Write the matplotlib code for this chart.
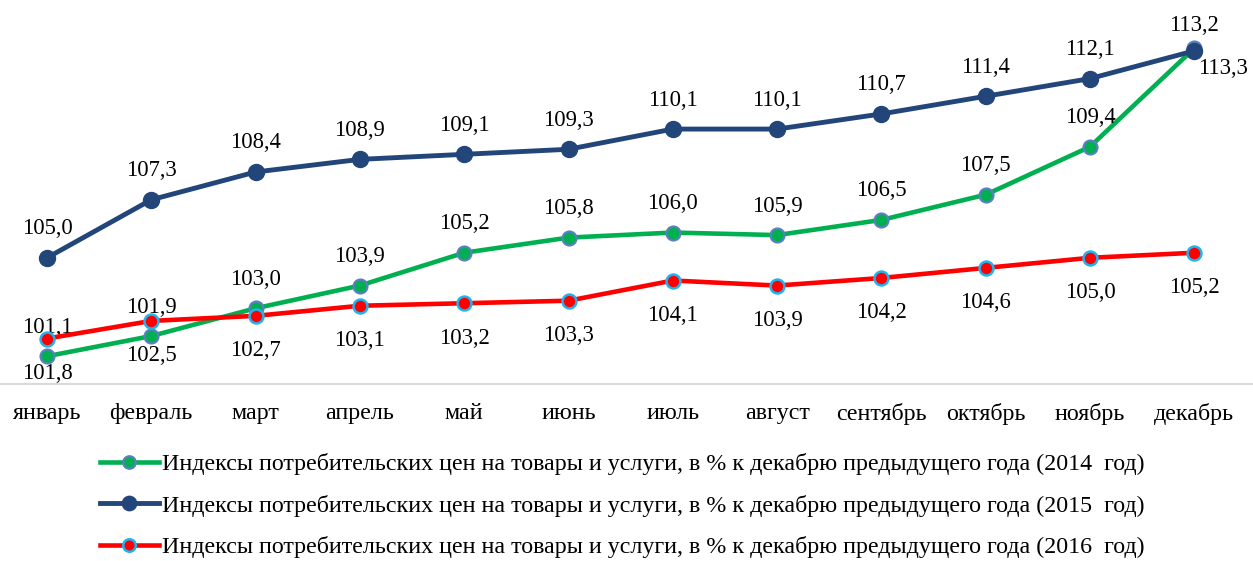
import matplotlib
matplotlib.use("Agg")
import matplotlib.pyplot as plt

plt.rcParams['font.family'] = ['Liberation Serif', 'DejaVu Serif']

months = ["январь", "февраль", "март", "апрель", "май", "июнь", "июль",
          "август", "сентябрь", "октябрь", "ноябрь", "декабрь"]
cpi_2014 = [101.1, 101.9, 103.0, 103.9, 105.2, 105.8, 106.0, 105.9, 106.5, 107.5, 109.4, 113.3]
cpi_2015 = [105.0, 107.3, 108.4, 108.9, 109.1, 109.3, 110.1, 110.1, 110.7, 111.4, 112.1, 113.2]
cpi_2016 = [101.8, 102.5, 102.7, 103.1, 103.2, 103.3, 104.1, 103.9, 104.2, 104.6, 105.0, 105.2]
legend_labels = [
    "Индексы потребительских цен на товары и услуги, в % к декабрю предыдущего года (2014  год)",
    "Индексы потребительских цен на товары и услуги, в % к декабрю предыдущего года (2015  год)",
    "Индексы потребительских цен на товары и услуги, в % к декабрю предыдущего года (2016  год)",
]

W, H = 1253, 561
fig = plt.figure(figsize=(W / 100, H / 100), dpi=100)
ax = fig.add_axes([0, 1 - 384 / H, 1, 384 / H])
ax.set_xlim(-47 / 104.3, (W - 47) / 104.3)
ax.set_ylim(100, 100 + 384 / 25.24)

x = list(range(len(months)))
green = "#00B050"
blue = "#22467A"
red = "#FF0000"

l14, = ax.plot(x, cpi_2014, color=green, lw=3.3, marker='o', ms=10,
               mfc=green, mec="#5B7FC0", mew=1.6, zorder=3)
l15, = ax.plot(x, cpi_2015, color=blue, lw=3.5, marker='o', ms=11.5,
               mfc=blue, mec=blue, mew=1.0, zorder=3)
l16, = ax.plot(x, cpi_2016, color=red, lw=3.3, marker='o', ms=10,
               mfc=red, mec="#1FB4F0", mew=1.8, zorder=4)

fs = 16.3
for i, v in enumerate(cpi_2015):
    dy = 25 if i == len(x) - 1 else 29
    ax.annotate(f"{v:.1f}".replace('.', ','), (i, v), xytext=(0, dy),
                textcoords='offset pixels', ha='center', va='center', fontsize=fs)
for i, v in enumerate(cpi_2014):
    if i == len(x) - 1:
        off = (29, -20)
    else:
        off = (0, 29)
    ax.annotate(f"{v:.1f}".replace('.', ','), (i, v), xytext=off,
                textcoords='offset pixels', ha='center', va='center', fontsize=fs)
for i, v in enumerate(cpi_2016):
    ax.annotate(f"{v:.1f}".replace('.', ','), (i, v), xytext=(0, -35),
                textcoords='offset pixels', ha='center', va='center', fontsize=fs)

for s in ['top', 'left', 'right']:
    ax.spines[s].set_visible(False)
ax.spines['bottom'].set_color('#D9D9D9')
ax.spines['bottom'].set_linewidth(1.5)
ax.set_yticks([])
ax.set_xticks(x)
ax.set_xticklabels(months, fontsize=17.3)
ax.tick_params(axis='x', length=0, pad=14)

handles = [l14, l15, l16]
leg = fig.legend(handles, legend_labels, loc='upper left',
                 bbox_to_anchor=(100 / W, 1 - 453 / H), frameon=False,
                 fontsize=17.3, handlelength=2.45, handletextpad=0.12,
                 labelspacing=0.82, borderpad=0, borderaxespad=0,
                 markerscale=0.9)

fig.savefig("out.png", dpi=100)
